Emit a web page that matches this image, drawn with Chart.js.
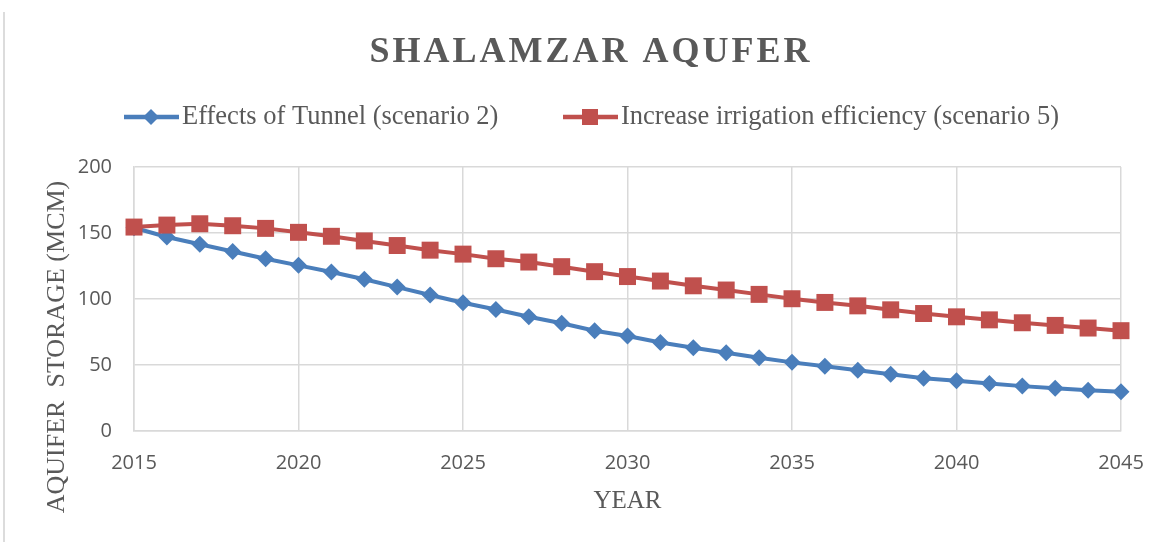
<!DOCTYPE html>
<html>
<head>
<meta charset="utf-8">
<script src="https://cdn.jsdelivr.net/npm/chart.js@4/dist/chart.umd.min.js"></script>
<style>
  html, body { margin: 0; padding: 0; background: #fff; }
  #wrap { position: relative; width: 1165px; height: 542px; }
  #edge { position: absolute; left: 3px; top: 12px; bottom: 0; border-left: 2px solid #dcdcdc; }
  canvas { position: absolute; left: 0; top: 0; }
</style>
</head>
<body>
<div id="wrap">
  <div id="edge"></div>
  <canvas id="grafico" width="1165" height="542"></canvas>
</div>
<script>
const titulo = "SHALAMZAR AQUFER";
const tituloX = "YEAR";
const tituloY = "AQUIFER  STORAGE (MCM)";
const anos = [2015, 2016, 2017, 2018, 2019, 2020, 2021, 2022, 2023, 2024,
  2025, 2026, 2027, 2028, 2029, 2030, 2031, 2032, 2033, 2034,
  2035, 2036, 2037, 2038, 2039, 2040, 2041, 2042, 2043, 2044, 2045];
const nomeTunel = "Effects of Tunnel (scenario 2)";
const tunel = [154, 147, 141.5, 136, 130.5, 125.5, 120.5, 115, 109, 103,
  97.2, 92, 86.6, 81.6, 76, 72, 67, 63, 59.3, 55.5,
  52, 49, 46, 43, 40, 38, 36, 34, 32.3, 30.8, 29.8];
const nomeIrrigacao = "Increase irrigation efficiency (scenario 5)";
const irrigacao = [154.5, 156, 157, 155.5, 153.5, 150.5, 147.5, 144, 140.5, 137,
  134, 130.5, 128, 124.5, 120.7, 117, 113.6, 110, 106.8, 103.5,
  100.2, 97.4, 94.8, 91.8, 89, 86.5, 84.2, 82, 80, 78, 76];
const ticksX = [2015, 2020, 2025, 2030, 2035, 2040, 2045];
const ticksY = [0, 50, 100, 150, 200];

const AZUL = "#4a7ebb";
const VERMELHO = "#c0504d";
const CINZA = "#595959";
const GRADE = "#d9d9d9";

function pontos(valores) {
  return anos.map((a, i) => ({ x: a, y: valores[i] }));
}

// textos e legenda desenhados à mão (estilo Excel)
const textos = {
  id: "textos",
  afterDraw(chart) {
    const ctx = chart.ctx;
    const area = chart.chartArea;
    ctx.save();
    ctx.fillStyle = CINZA;

    // título
    ctx.font = "bold 36px 'Liberation Serif'";
    ctx.textAlign = "center";
    ctx.textBaseline = "middle";
    ctx.letterSpacing = "3px";
    ctx.fillText(titulo, 591, 53);
    ctx.letterSpacing = "0px";

    // legenda
    ctx.font = "26.5px 'Liberation Serif'";
    ctx.textAlign = "left";
    const itens = [
      { nome: nomeTunel, cor: AZUL, x: 124, forma: "losango" },
      { nome: nomeIrrigacao, cor: VERMELHO, x: 563, forma: "quadrado" },
    ];
    itens.forEach((it) => {
      const y = 117;
      ctx.strokeStyle = it.cor;
      ctx.lineWidth = 4.5;
      ctx.beginPath();
      ctx.moveTo(it.x, y);
      ctx.lineTo(it.x + 55, y);
      ctx.stroke();
      ctx.fillStyle = it.cor;
      const cx = it.x + 27;
      if (it.forma === "losango") {
        ctx.beginPath();
        ctx.moveTo(cx, y - 8);
        ctx.lineTo(cx + 8, y);
        ctx.lineTo(cx, y + 8);
        ctx.lineTo(cx - 8, y);
        ctx.closePath();
        ctx.fill();
      } else {
        ctx.fillRect(cx - 8, y - 8, 16, 16);
      }
      ctx.fillStyle = CINZA;
      ctx.fillText(it.nome, it.x + 58, y);
    });

    // título eixo x
    ctx.font = "25px 'Liberation Serif'";
    ctx.textAlign = "center";
    ctx.fillText(tituloX, (area.left + area.right) / 2, 501);

    // título eixo y
    ctx.font = "26px 'Liberation Serif'";
    ctx.translate(57, 347);
    ctx.rotate(-Math.PI / 2);
    ctx.fillText(tituloY, 0, 0);
    ctx.restore();
  },
};

new Chart(document.getElementById("grafico"), {
  type: "line",
  data: {
    datasets: [
      {
        label: nomeTunel,
        data: pontos(tunel),
        borderColor: AZUL,
        backgroundColor: AZUL,
        borderWidth: 4,
        pointStyle: "rectRot",
        pointRadius: 8.5,
        pointBorderWidth: 0,
        tension: 0,
        clip: false,
        order: 1,
      },
      {
        label: nomeIrrigacao,
        data: pontos(irrigacao),
        borderColor: VERMELHO,
        backgroundColor: VERMELHO,
        borderWidth: 4,
        pointStyle: "rect",
        pointRadius: 12,
        pointBorderWidth: 0,
        tension: 0,
        clip: false,
        order: 0,
      },
    ],
  },
  options: {
    responsive: false,
    animation: false,
    events: [],
    layout: { padding: { top: 167, right: 44, left: 0, bottom: 0 } },
    plugins: {
      legend: { display: false },
      title: { display: false },
      tooltip: { enabled: false },
    },
    scales: {
      x: {
        type: "linear",
        min: ticksX[0],
        max: ticksX[ticksX.length - 1],
        afterBuildTicks: (s) => { s.ticks = ticksX.map((v) => ({ value: v })); },
        afterFit: (s) => { s.height = 111; },
        grid: { color: GRADE, lineWidth: 1.5, drawTicks: false },
        border: { color: GRADE, width: 1.5 },
        ticks: {
          padding: 20,
          color: CINZA,
          font: { family: "'Open Sans'", size: 20 },
          callback: (v) => String(v),
        },
      },
      y: {
        min: ticksY[0],
        max: ticksY[ticksY.length - 1],
        afterBuildTicks: (s) => { s.ticks = ticksY.map((v) => ({ value: v })); },
        afterFit: (s) => { s.width = 134; },
        grid: { color: GRADE, lineWidth: 1.5, drawTicks: false },
        border: { color: GRADE, width: 1.5 },
        ticks: {
          padding: 22,
          color: CINZA,
          font: { family: "'Open Sans'", size: 20 },
        },
      },
    },
  },
  plugins: [textos],
});
</script>
</body>
</html>
